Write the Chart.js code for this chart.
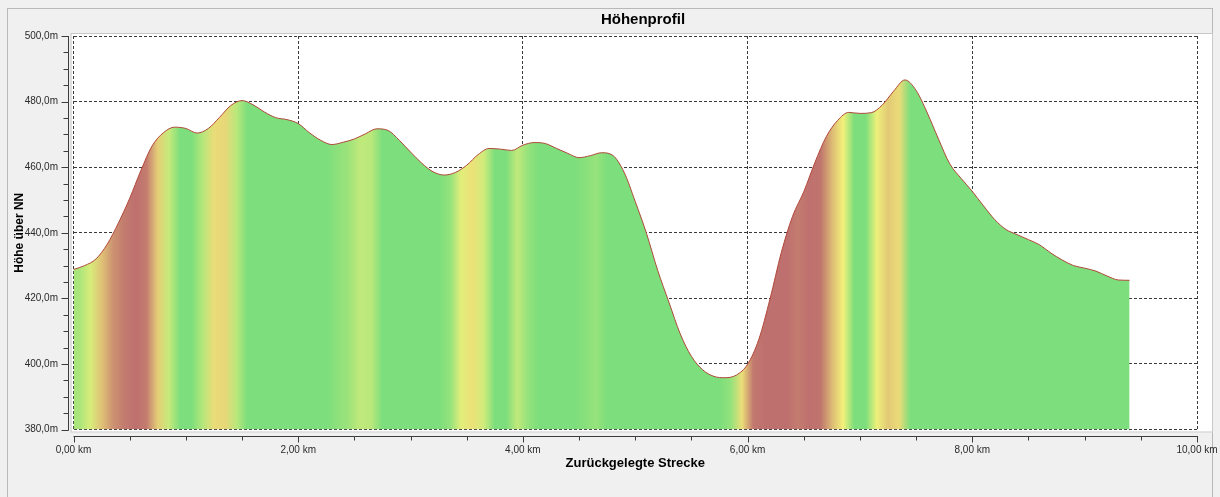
<!DOCTYPE html>
<html lang="de">
<head>
<meta charset="utf-8">
<title>Höhenprofil</title>
<script src="https://cdn.jsdelivr.net/npm/chart.js@4.4.0/dist/chart.umd.min.js"></script>
<style>
  html, body { margin: 0; padding: 0; background: #f0f0f0; overflow: hidden; }
  #profile { display: block; }
</style>
</head>
<body>
<canvas id="profile" width="1220" height="497"></canvas>
<script>
// distance along the track (km) and elevation (m)
const distanceKm = [
  0.0, 0.1, 0.2, 0.3, 0.4, 0.5, 0.6, 0.7, 0.8, 0.9,
  1.0, 1.1, 1.2, 1.3, 1.4, 1.5, 1.6, 1.7, 1.8, 1.9,
  2.0, 2.1, 2.2, 2.3, 2.4, 2.5, 2.6, 2.7, 2.8, 2.9,
  3.0, 3.1, 3.2, 3.3, 3.4, 3.5, 3.6, 3.7, 3.8, 3.9,
  4.0, 4.1, 4.2, 4.3, 4.4, 4.5, 4.6, 4.7, 4.8, 4.9,
  5.0, 5.1, 5.2, 5.3, 5.4, 5.5, 5.6, 5.7, 5.8, 5.9,
  6.0, 6.1, 6.2, 6.3, 6.4, 6.5, 6.6, 6.7, 6.8, 6.9,
  7.0, 7.1, 7.2, 7.3, 7.4, 7.5, 7.6, 7.7, 7.8, 7.9,
  8.0, 8.1, 8.2, 8.3, 8.4, 8.5, 8.6, 8.7, 8.8, 8.9,
  9.0, 9.1, 9.2, 9.3, 9.4
];
const elevationM = [
  428.8, 430.0, 432.0, 436.5, 443.0, 450.5, 459.0, 466.5, 470.5, 472.2,
  471.8, 470.4, 471.8, 475.2, 478.8, 480.3, 479.0, 476.8, 475.1, 474.5,
  473.3, 470.5, 468.2, 466.9, 467.6, 468.6, 470.2, 471.7, 471.2, 468.2,
  464.6, 461.2, 458.6, 457.6, 458.4, 460.6, 463.8, 465.7, 465.5, 465.1,
  466.7, 467.5, 467.2, 465.7, 464.2, 462.9, 463.5, 464.4, 463.6, 458.5,
  449.5, 439.8, 428.5, 418.8, 409.2, 402.3, 398.2, 396.2, 395.8, 396.6,
  399.9, 407.5, 419.9, 434.0, 445.0, 452.5, 461.5, 469.3, 474.2, 476.7,
  476.4, 476.6, 479.0, 483.2, 486.6, 483.4, 476.5, 468.5, 461.0, 456.6,
  452.6, 448.2, 444.0, 441.0, 439.4, 437.9, 436.3, 433.8, 431.7, 430.0,
  429.2, 428.3, 426.8, 425.6, 425.5
];

// axis ranges and tick steps
const xRange = [0, 10];
const yRange = [380, 500];
const xMajorStep = 2, xMinorStep = 0.5;
const yMajorStep = 20, yMinorStep = 5;

const GREEN = [124, 222, 124];
const YELLOW = [243, 241, 122];
const RED = [190, 112, 110];

function mix(a, b, t) {
    return a.map((v, i) => Math.round(v + (b[i] - v) * t));
}

// colour by uphill grade in percent
function gradeColor(g) {
    if (g <= 0.4) return GREEN;
    if (g <= 2.5) return mix(GREEN, YELLOW, (g - 0.4) / 2.1);
    if (g <= 8) return mix(YELLOW, RED, (g - 2.5) / 5.5);
    return RED;
}

const isMultiple = (v, step) => Math.abs(v / step - Math.round(v / step)) < 1e-6;

function slopeFill(context) {
    const chart = context.chart;
    const { chartArea, scales } = chart;
    if (!chartArea) return 'rgb(124,222,124)';
    const last = distanceKm.length - 1;
    const x0 = scales.x.getPixelForValue(distanceKm[0]);
    const x1 = scales.x.getPixelForValue(distanceKm[last]);
    const grad = chart.ctx.createLinearGradient(x0, 0, x1, 0);
    for (let i = 0; i < last; i++) {
        const dd = (distanceKm[i + 1] - distanceKm[i]) * 1000;
        const g = (elevationM[i + 1] - elevationM[i]) / dd * 100;
        const mid = (distanceKm[i] + distanceKm[i + 1]) / 2;
        const pos = (scales.x.getPixelForValue(mid) - x0) / (x1 - x0);
        const c = gradeColor(g);
        if (i === 0) grad.addColorStop(0, `rgb(${c})`);
        grad.addColorStop(Math.min(1, Math.max(0, pos)), `rgb(${c})`);
        if (i === last - 1) grad.addColorStop(1, `rgb(${c})`);
    }
    return grad;
}

const framePlugin = {
    id: 'frame',
    beforeDraw(chart) {
        const { ctx, chartArea } = chart;
        ctx.save();
        ctx.fillStyle = '#f0f0f0';
        ctx.fillRect(0, 0, chart.width, chart.height);
        ctx.strokeStyle = '#b8b8b8';
        ctx.lineWidth = 1;
        ctx.strokeRect(7.5, 8.5, 1205, 520);
        ctx.fillStyle = '#ffffff';
        ctx.fillRect(chartArea.left - 2, chartArea.top - 2, 1212.5 - chartArea.left + 2, chartArea.bottom - chartArea.top + 5);
        ctx.strokeStyle = '#c8c8c8';
        ctx.strokeRect(chartArea.left - 2.5, chartArea.top - 2.5, 1212.5 - chartArea.left + 2.5, chartArea.bottom - chartArea.top + 5);
        ctx.restore();
    },
    afterDraw(chart) {
        const { ctx, chartArea, scales } = chart;
        const ax = Math.round(chartArea.left - 6) + 0.5;
        const ay = Math.round(chartArea.bottom + 6) + 0.5;
        ctx.save();
        ctx.strokeStyle = '#3c3c3c';
        ctx.lineWidth = 1;
        ctx.beginPath();
        ctx.moveTo(ax, chartArea.top);
        ctx.lineTo(ax, chartArea.bottom + 1);
        ctx.moveTo(chartArea.left, ay);
        ctx.lineTo(chartArea.right + 1, ay);
        scales.y.ticks.forEach(t => {
            const py = Math.round(scales.y.getPixelForValue(t.value)) + 0.5;
            const len = isMultiple(t.value, yMajorStep) ? 7 : 5;
            ctx.moveTo(ax - len, py);
            ctx.lineTo(ax, py);
        });
        scales.x.ticks.forEach(t => {
            const px = Math.round(scales.x.getPixelForValue(t.value)) + 0.5;
            const len = isMultiple(t.value, xMajorStep) ? 6 : 4;
            ctx.moveTo(px, ay);
            ctx.lineTo(px, ay + len);
        });
        ctx.stroke();

        ctx.fillStyle = '#000';
        ctx.font = 'bold 15px "Liberation Sans", Arial, sans-serif';
        ctx.textAlign = 'center';
        ctx.textBaseline = 'middle';
        ctx.fillText('Höhenprofil', 643, 19.5);
        ctx.restore();
    }
};

Chart.defaults.font.family = '"Liberation Sans", Arial, sans-serif';
Chart.defaults.font.size = 10;
Chart.defaults.color = '#2a2a2a';

const gridColor = step => ctx => isMultiple(ctx.tick.value, step) ? '#3a3a3a' : 'rgba(0,0,0,0)';

new Chart(document.getElementById('profile'), {
    type: 'line',
    data: {
        datasets: [{
            label: 'Höhe',
            data: distanceKm.map((d, i) => ({ x: d, y: elevationM[i] })),
            borderColor: 'rgb(176,72,58)',
            borderWidth: 1,
            backgroundColor: slopeFill,
            fill: 'start',
            pointRadius: 0,
            cubicInterpolationMode: 'monotone'
        }]
    },
    options: {
        responsive: false,
        animation: false,
        devicePixelRatio: 1,
        layout: { padding: { top: 36, right: 23, left: 0, bottom: 0 } },
        plugins: {
            legend: { display: false },
            tooltip: { enabled: false }
        },
        scales: {
            x: {
                type: 'linear',
                min: xRange[0],
                max: xRange[1],
                z: 1,
                afterFit: s => { s.height = 67.5; s.paddingLeft = 0; s.paddingRight = 0; },
                border: { display: false, dash: [3, 2] },
                grid: { color: gridColor(xMajorStep), drawTicks: false, lineWidth: 1 },
                ticks: {
                    stepSize: xMinorStep,
                    autoSkip: false,
                    maxRotation: 0,
                    padding: 14.5,
                    callback: v => isMultiple(v, xMajorStep) ? v.toFixed(2).replace('.', ',') + ' km' : ''
                },
                title: {
                    display: true,
                    text: 'Zurückgelegte Strecke',
                    color: '#000',
                    font: { size: 13, weight: 'bold' },
                    padding: { top: 0, bottom: 26 }
                }
            },
            y: {
                min: yRange[0],
                max: yRange[1],
                z: 1,
                afterFit: s => { s.width = 73.5; s.paddingTop = 0; s.paddingBottom = 0; },
                border: { display: false, dash: [3, 2] },
                grid: { color: gridColor(yMajorStep), drawTicks: false, lineWidth: 1 },
                ticks: {
                    stepSize: yMinorStep,
                    maxTicksLimit: 100,
                    autoSkip: false,
                    padding: 15.5,
                    callback: v => isMultiple(v, yMajorStep) ? v.toFixed(1).replace('.', ',') + 'm' : ''
                },
                title: {
                    display: true,
                    text: 'Höhe über NN',
                    color: '#000',
                    font: { size: 12, weight: 'bold' },
                    padding: { top: 12, bottom: 0 }
                }
            }
        }
    },
    plugins: [framePlugin]
});
</script>
</body>
</html>
